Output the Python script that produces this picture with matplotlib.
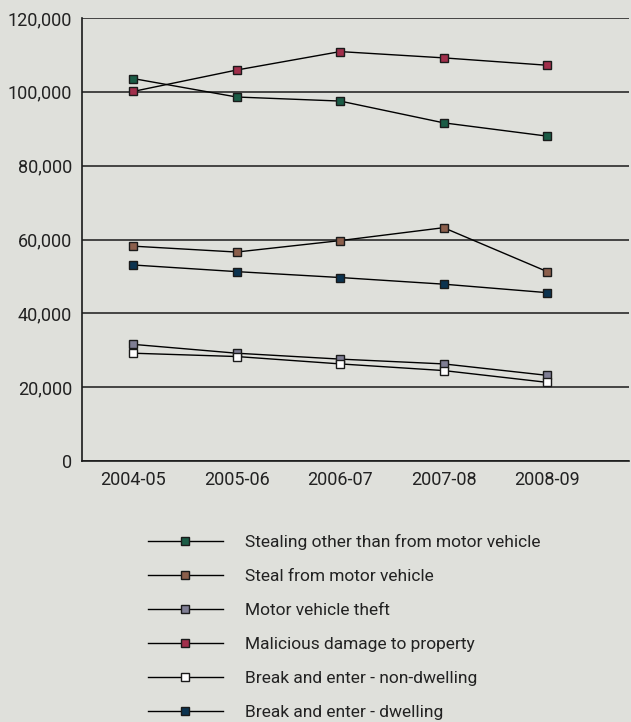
import numpy as np
import matplotlib
matplotlib.use("Agg")
import matplotlib.pyplot as plt
from matplotlib.ticker import FuncFormatter

plt.rcParams['font.family'] = ['Roboto', 'DejaVu Sans']

years = ['2004-05', '2005-06', '2006-07', '2007-08', '2008-09']

stealing_other = [103600, 98600, 97500, 91600, 88000]
steal_from_mv = [58200, 56600, 59700, 63200, 51300]
mv_theft = [31600, 29200, 27600, 26300, 23200]
malicious = [100100, 105900, 110900, 109200, 107200]
be_non_dwelling = [29200, 28300, 26300, 24500, 21300]
be_dwelling = [53100, 51300, 49700, 47900, 45600]

labels = ['Stealing other than from motor vehicle', 'Steal from motor vehicle',
          'Motor vehicle theft', 'Malicious damage to property',
          'Break and enter - non-dwelling', 'Break and enter - dwelling']
series = [stealing_other, steal_from_mv, mv_theft, malicious, be_non_dwelling, be_dwelling]
colors = ['#1b5c46', '#8c5f4c', '#7f7e94', '#a12f4b', '#ffffff', '#0c3350']

bg = '#dfe0db'
fig = plt.figure(figsize=(6.31, 7.22), dpi=100, facecolor=bg)
ax = fig.add_axes([82/631, 1-461/722, 547/631, 443/722], facecolor=bg)

x = np.arange(len(years))
for vals, c, lab in zip(series, colors, labels):
    ax.plot(x, vals, color='black', lw=1, marker='s', markersize=6,
            markerfacecolor=c, markeredgecolor='#1a1a1a', markeredgewidth=1, label=lab, zorder=3)

ax.set_ylim(0, 120000)
ax.set_yticks(np.arange(0, 120001, 20000))
ax.yaxis.set_major_formatter(FuncFormatter(lambda v, p: f'{int(v):,}'))
ax.set_xlim(-0.493, 4.79)
ax.set_xticks(x)
ax.set_xticklabels(years)
ax.grid(axis='y', color='#1a1a1a', lw=1.1)
ax.set_axisbelow(True)
ax.tick_params(length=0, labelsize=13, colors='#222222', pad=7)
for s in ['top', 'right']:
    ax.spines[s].set_visible(False)
for s in ['left', 'bottom']:
    ax.spines[s].set_color('#1a1a1a')
    ax.spines[s].set_linewidth(1.2)

fig.legend(loc='upper left', bbox_to_anchor=(148/631, 1-534/722), frameon=False,
           fontsize=12.5, handlelength=4.3, handletextpad=1.3, labelspacing=1.09,
           borderpad=0, borderaxespad=0, labelcolor='#222222')

fig.savefig('out.png', dpi=100, facecolor=bg)
